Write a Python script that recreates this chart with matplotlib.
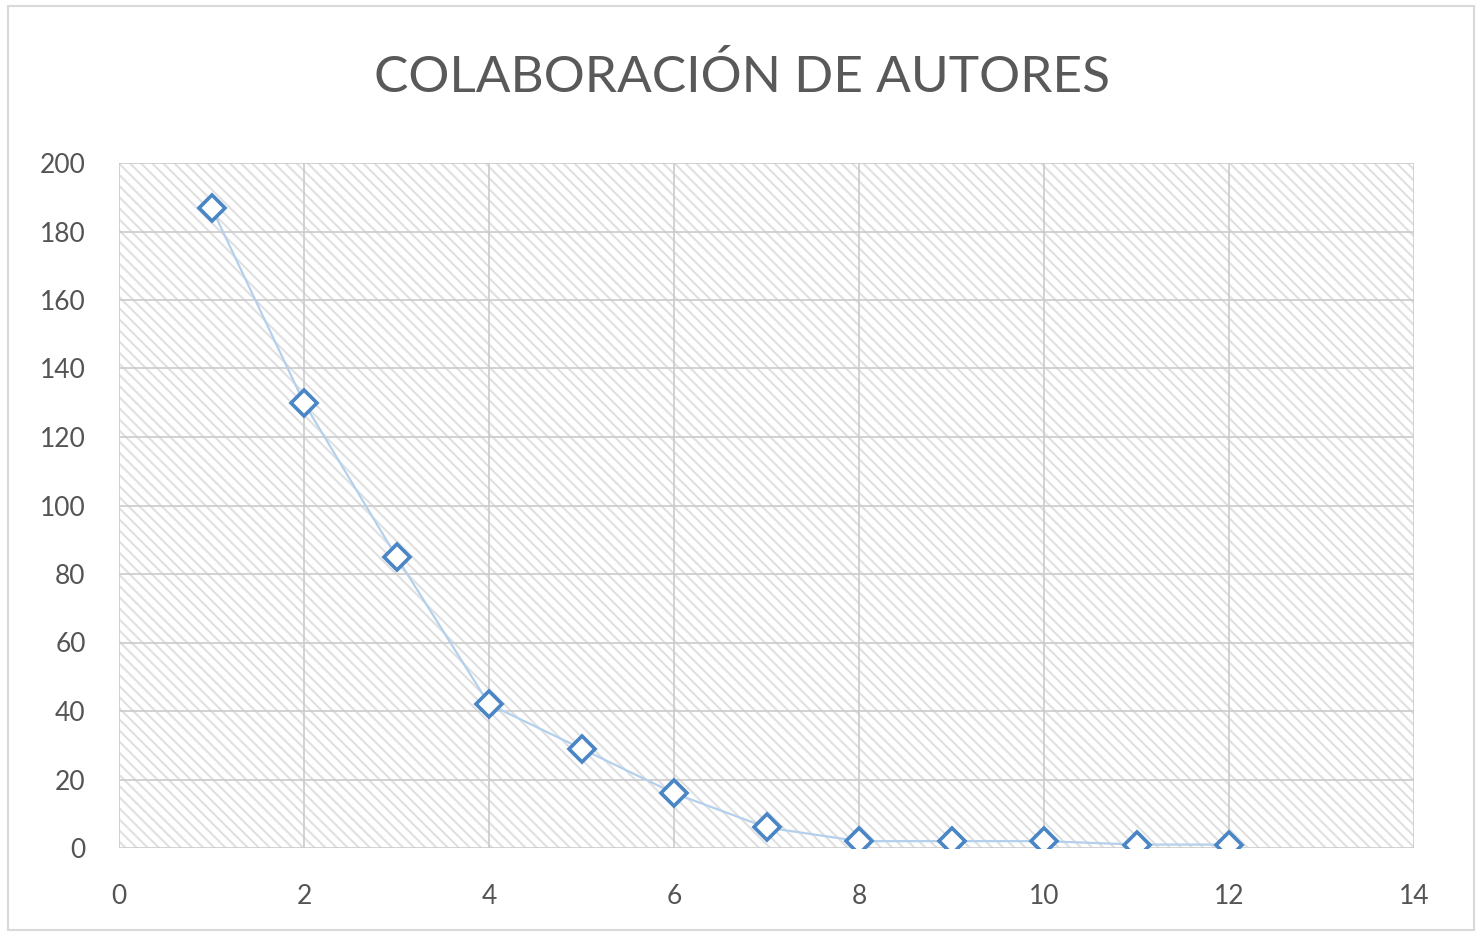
import numpy as np
from matplotlib import pyplot as plt
from matplotlib.patches import Rectangle

autores = [1, 2, 3, 4, 5, 6, 7, 8, 9, 10, 11, 12]
articulos = [187, 130, 85, 42, 29, 16, 6, 2, 2, 2, 1, 1]
xticks = [0, 2, 4, 6, 8, 10, 12, 14]
yticks = [0, 20, 40, 60, 80, 100, 120, 140, 160, 180, 200]

plt.rcParams['font.family'] = ['Lato', 'DejaVu Sans']
plt.rcParams['hatch.linewidth'] = 1.5

fig = plt.figure(figsize=(14.84, 9.36), dpi=100)
ax = fig.add_axes([119 / 1484, 1 - 848 / 936, (1414 - 119) / 1484, (848 - 163) / 936])

# fondo rayado
ax.add_patch(Rectangle((0, 0), 1, 1, transform=ax.transAxes, facecolor="white",
                       edgecolor="#e0e0e0", hatch="\\\\\\", linewidth=0, zorder=0))

ax.plot(autores, articulos, color="#b4d0ec", linewidth=1.6, zorder=3)
ax.plot(autores, articulos, linestyle="none", marker="D", markersize=13,
        markerfacecolor="white", markeredgecolor="#4a86c5", markeredgewidth=2.6, zorder=4)

ax.set_xlim(0, 14)
ax.set_ylim(0, 200)
ax.set_xticks(xticks)
ax.set_yticks(yticks)
ax.grid(True, color="#cbcbcb", linewidth=1.2, zorder=1)
ax.set_axisbelow(True)
for s in ax.spines.values():
    s.set_visible(False)
ax.tick_params(length=0, labelsize=19, labelcolor="#545454")
ax.tick_params(axis="y", pad=24)
ax.tick_params(axis="x", pad=26)

fig.text(0.5, 1 - 78 / 936, "COLABORACIÓN DE AUTORES", ha="center", va="center",
         fontsize=37, color="#595959")

fig.patches.append(Rectangle((8 / 1484, 6 / 936), 1466 / 1484, 924 / 936,
                             transform=fig.transFigure, fill=False,
                             edgecolor="#d9d9d9", linewidth=1.5))

fig.savefig("out.png", dpi=100)
